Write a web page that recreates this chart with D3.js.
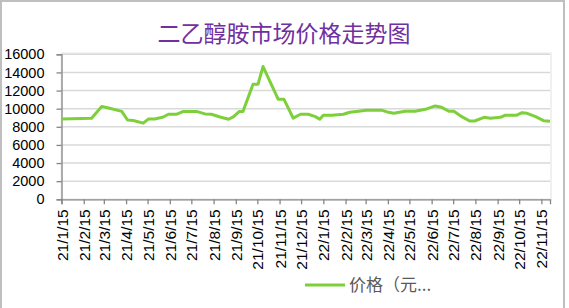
<!DOCTYPE html>
<html><head><meta charset="utf-8">
<script src="https://cdn.jsdelivr.net/npm/d3@7/dist/d3.min.js"></script>
<style>html,body{margin:0;padding:0;background:#fff;}svg{display:block;}</style>
</head><body>
<script>
const title = "二乙醇胺市场价格走势图";
const seriesName = "价格（元...";
const dates = ["2021-01-15","2021-02-26","2021-03-12","2021-03-23","2021-04-09","2021-04-17","2021-04-25","2021-05-09","2021-05-16","2021-05-25","2021-06-06","2021-06-13","2021-06-24","2021-07-04","2021-07-22","2021-08-03","2021-08-12","2021-08-24","2021-09-05","2021-09-12","2021-09-20","2021-09-25","2021-10-09","2021-10-16","2021-10-23","2021-11-13","2021-11-21","2021-12-04","2021-12-14","2021-12-25","2022-01-04","2022-01-10","2022-01-15","2022-01-27","2022-02-12","2022-02-21","2022-03-05","2022-03-16","2022-04-07","2022-04-14","2022-04-23","2022-05-09","2022-05-23","2022-06-08","2022-06-20","2022-06-29","2022-07-09","2022-07-16","2022-07-27","2022-08-07","2022-08-14","2022-08-27","2022-09-05","2022-09-19","2022-09-25","2022-10-11","2022-10-19","2022-10-26","2022-11-07","2022-11-18","2022-11-27"];
const prices = [8850,8950,10250,10050,9700,8750,8700,8400,8850,8870,9080,9380,9380,9700,9700,9420,9380,9080,8830,9120,9700,9700,12700,12700,14650,11050,11050,8950,9380,9380,9120,8830,9270,9270,9380,9600,9710,9820,9820,9640,9490,9710,9710,9970,10300,10150,9710,9710,9120,8640,8640,9050,8940,9050,9270,9270,9560,9490,9120,8680,8610];
const yTicks = [0,2000,4000,6000,8000,10000,12000,14000,16000];
const xTickLabels = ["21/1/15","21/2/15","21/3/15","21/4/15","21/5/15","21/6/15","21/7/15","21/8/15","21/9/15","21/10/15","21/11/15","21/12/15","22/1/15","22/2/15","22/3/15","22/4/15","22/5/15","22/6/15","22/7/15","22/8/15","22/9/15","22/10/15","22/11/15"];

(function(){
const W = 569, H = 308;
const parse = d3.timeParse("%Y-%m-%d");
const parseTick = d3.timeParse("%y/%m/%d");
const data = dates.map((d,i)=>({date:parse(d), v:prices[i]}));
const tickDates = xTickLabels.map(parseTick);
const latin = "'Liberation Sans', Arial, sans-serif";

const svg = d3.select("body").append("svg").attr("width",W).attr("height",H);
svg.append("rect").attr("x",0).attr("y",0).attr("width",W).attr("height",H).attr("fill","#fff");
svg.append("rect").attr("x",1).attr("y",1).attr("width",W-6).attr("height",H+4)
  .attr("fill","none").attr("stroke","#bfbfbf").attr("stroke-width",2);

const pL = 61.5, pR = 550, pT = 54.3, pB = 199.3;
const x = d3.scaleTime().domain([data[0].date, data[data.length-1].date]).range([pL, pR]);
const y = d3.scaleLinear().domain([0,16000]).range([pB, pT]);

svg.append("rect").attr("x",pL).attr("y",pT-1).attr("width",pR-pL+1).attr("height",pB-pT+1)
  .attr("fill","none").attr("stroke","#f0f0f0").attr("stroke-width",2);

svg.append("g").selectAll("line").data(yTicks.filter(t=>t>0)).join("line")
  .attr("x1",pL).attr("x2",pR).attr("y1",d=>y(d)).attr("y2",d=>y(d))
  .attr("stroke","#d9d9d9").attr("stroke-width",1.6);

const yAxis = svg.append("g").attr("transform",`translate(${pL},0)`)
  .call(d3.axisLeft(y).tickValues(yTicks).tickSize(5).tickPadding(12).tickFormat(d3.format("d")));
yAxis.select(".domain").attr("stroke","#868686").attr("stroke-width",1.3);
yAxis.selectAll(".tick line").attr("stroke","#868686").attr("stroke-width",1.3);
yAxis.selectAll("text").attr("font-family",latin)
  .attr("font-size",14.5).attr("fill","#000");

const xAxis = svg.append("g").attr("transform",`translate(0,${pB})`)
  .call(d3.axisBottom(x).tickValues(tickDates).tickSize(5).tickFormat((d,i)=>xTickLabels[i]));
xAxis.select(".domain").attr("stroke","#868686").attr("stroke-width",1.3);
xAxis.selectAll(".tick line").attr("stroke","#868686").attr("stroke-width",1.3);
xAxis.selectAll("text")
  .attr("font-family",latin).attr("font-size",15.5).attr("fill","#000")
  .attr("transform","rotate(-90)").attr("text-anchor","end").attr("dy","0.36em").attr("x",-10).attr("y",0);

svg.append("path").datum(data)
  .attr("d", d3.line().x(d=>x(d.date)).y(d=>y(d.v)))
  .attr("fill","none").attr("stroke","#7ed03b").attr("stroke-width",3).attr("stroke-linejoin","round");

svg.append("text").attr("x",284).attr("y",42).attr("text-anchor","middle")
  .attr("font-family","'Noto Sans CJK SC', sans-serif").attr("font-size",23)
  .attr("fill","#7030a0").text(title);

svg.append("line").attr("x1",305).attr("x2",345).attr("y1",285).attr("y2",285)
  .attr("stroke","#7ed03b").attr("stroke-width",3);
svg.append("text").attr("x",349).attr("y",291).attr("font-family","'Noto Sans CJK SC', sans-serif")
  .attr("font-size",17).attr("fill","#595959").text(seriesName);
})();
</script>
</body></html>
